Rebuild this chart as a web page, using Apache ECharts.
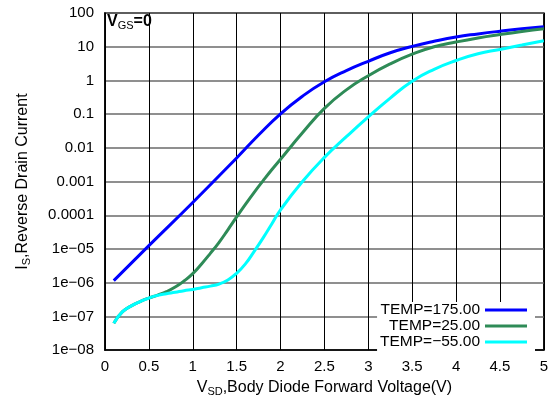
<!DOCTYPE html>
<html>
<head>
<meta charset="utf-8">
<script src="https://cdn.jsdelivr.net/npm/echarts@6/dist/echarts.min.js"></script>
<style>
html,body{margin:0;padding:0;background:#fff;}
#chart{width:551px;height:402px;}
</style>
</head>
<body>
<div id="chart"></div>
<script>
const FONT = "'Liberation Sans', Arial, Helvetica, sans-serif";

const seriesNames = ['TEMP=175.00', 'TEMP=25.00', 'TEMP=\u221255.00'];
const seriesColors = ['#0000ff', '#2e8b57', '#00ffff'];

const xTickLabels = ['0', '0.5', '1', '1.5', '2', '2.5', '3', '3.5', '4', '4.5', '5'];
const yTickLabels = ['1e\u221208', '1e\u221207', '1e\u221206', '1e\u221205', '0.0001', '0.001', '0.01', '0.1', '1', '10', '100'];

const xT175 = [0.1, 0.5, 1.0, 1.5, 1.75, 2.0, 2.25, 2.5, 2.75, 3.0, 3.25, 3.5, 3.75, 4.0, 4.25, 4.5, 4.75, 5.0];
const yT175 = [1.15e-6, 1.26e-5, 2.4e-4, 5.0e-3, 0.024, 0.102, 0.34, 0.91, 1.95, 3.7, 6.6, 10.2, 14.5, 19.5, 24, 28.8, 33.9, 38.9];

const xT25 = [0.1, 0.2, 0.3, 0.4, 0.5, 0.6, 0.7, 0.8, 0.9, 1.0, 1.1, 1.2, 1.3, 1.4, 1.5, 1.6, 1.7, 1.8, 1.9, 2.0, 2.25, 2.5, 2.75, 3.0, 3.25, 3.5, 3.75, 4.0, 4.25, 4.5, 4.75, 5.0];
const yT25 = [6.3e-8, 1.38e-7, 2.05e-7, 2.75e-7, 3.5e-7, 4.3e-7, 5.4e-7, 7.4e-7, 1.12e-6, 1.86e-6, 3.6e-6, 7.4e-6, 1.58e-5, 3.7e-5, 8.9e-5, 2.1e-4, 4.8e-4, 1.05e-3, 2.24e-3, 4.6e-3, 0.028, 0.148, 0.525, 1.38, 3.1, 6.0, 10.0, 13.8, 18.2, 22.9, 28.2, 33.9];

const xTm55 = [0.1, 0.2, 0.3, 0.4, 0.5, 0.6, 0.7, 0.8, 0.9, 1.0, 1.1, 1.2, 1.3, 1.4, 1.5, 1.6, 1.7, 1.8, 1.9, 2.0, 2.25, 2.5, 2.75, 3.0, 3.25, 3.5, 3.75, 4.0, 4.25, 4.5, 4.75, 5.0];
const yTm55 = [6.3e-8, 1.38e-7, 2.05e-7, 2.75e-7, 3.5e-7, 4.2e-7, 4.7e-7, 5.2e-7, 5.8e-7, 6.3e-7, 7.1e-7, 7.9e-7, 9.1e-7, 1.2e-6, 1.9e-6, 3.6e-6, 8.5e-6, 2.1e-5, 5.5e-5, 1.45e-4, 1.0e-3, 5.2e-3, 0.0214, 0.083, 0.30, 0.95, 2.14, 3.9, 6.2, 8.3, 11.2, 15.1];

function pairs(xs, ys) { return xs.map((x, i) => [x, ys[i]]); }

const chart = echarts.init(document.getElementById('chart'), null, {renderer: 'canvas'});

const seriesData = [pairs(xT175, yT175), pairs(xT25, yT25), pairs(xTm55, yTm55)];

chart.setOption({
  animation: false,
  backgroundColor: '#fff',
  textStyle: {fontFamily: FONT},
  title: {
    text: '{v|V}{s|GS}{e|=}{b|0}',
    left: 107, top: 13,
    padding: 0,
    textStyle: {
      rich: {
        v: {fontSize: 16, fontFamily: FONT, color: '#000', lineHeight: 18},
        s: {fontSize: 11, fontFamily: FONT, color: '#000', fontWeight: 'normal', padding: [7, 0, 0, 0], lineHeight: 18},
        e: {fontSize: 16, fontFamily: FONT, color: '#000', lineHeight: 18},
        b: {fontSize: 16, fontFamily: FONT, color: '#000', fontWeight: 'bold', lineHeight: 18}
      }
    }
  },
  grid: {
    left: 105, right: 7, top: 13, bottom: 51,
    show: true, borderColor: '#000', borderWidth: 1.5, backgroundColor: 'transparent'
  },
  legend: {
    orient: 'vertical',
    align: 'right',
    right: 16, top: 302,
    padding: [0, 8, 3, 3],
    itemGap: 0,
    itemWidth: 42, itemHeight: 3,
    icon: 'rect',
    backgroundColor: '#fff',
    textStyle: {fontSize: 15.5, fontFamily: FONT, color: '#000', lineHeight: 15.3},
    data: seriesNames
  },
  xAxis: {
    type: 'value', min: 0, max: 5, interval: 0.5,
    name: '{v|V}{s|SD}{n|,Body Diode Forward Voltage(V)}',
    nameLocation: 'middle', nameGap: 28,
    nameTextStyle: {
      rich: {
        v: {fontSize: 16, fontFamily: FONT, color: '#000', lineHeight: 18},
        s: {fontSize: 11, fontFamily: FONT, color: '#000', padding: [7, 0, 0, 0], lineHeight: 18},
        n: {fontSize: 16, fontFamily: FONT, color: '#000', lineHeight: 18}
      }
    },
    axisLine: {show: true, lineStyle: {color: '#000', width: 1.5}},
    axisTick: {show: false},
    axisLabel: {
      fontSize: 15, color: '#000', fontFamily: FONT, margin: 9,
      formatter: v => xTickLabels[Math.round(v / 0.5)]
    },
    splitLine: {show: true, lineStyle: {color: '#000', width: 1}}
  },
  yAxis: {
    type: 'log', logBase: 10, min: 1e-8, max: 100, interval: 1,
    name: '{v|I}{s|S}{n|,Reverse Drain Current}',
    nameLocation: 'middle', nameGap: 73,
    nameTextStyle: {
      rich: {
        v: {fontSize: 16, fontFamily: FONT, color: '#000', lineHeight: 18},
        s: {fontSize: 11, fontFamily: FONT, color: '#000', padding: [7, 0, 0, 0], lineHeight: 18},
        n: {fontSize: 16, fontFamily: FONT, color: '#000', lineHeight: 18}
      }
    },
    axisLine: {show: true, lineStyle: {color: '#000', width: 1.5}},
    axisTick: {show: false},
    axisLabel: {
      fontSize: 15, color: '#000', fontFamily: FONT, margin: 11,
      formatter: v => yTickLabels[Math.round(Math.log10(v)) + 8]
    },
    splitLine: {show: true, lineStyle: {color: '#6a6a6a', width: 1.6}}
  },
  series: seriesNames.map((n, i) => ({
    name: n,
    type: 'line',
    smooth: 0.5,
    showSymbol: false,
    symbol: 'none',
    data: seriesData[i],
    color: seriesColors[i],
    lineStyle: {color: seriesColors[i], width: 3},
    z: 3
  }))
});
</script>
</body>
</html>
